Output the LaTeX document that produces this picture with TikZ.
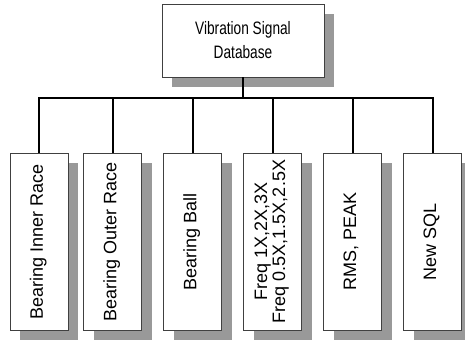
\documentclass[tikz,border=0pt]{standalone}
\usepackage{fontspec}
\setmainfont{Liberation Sans}
\newfontfamily\narrowfont{Liberation Sans}[FakeStretch=0.76]
\usetikzlibrary{positioning,shadows}

\newcommand{\vtext}[1]{\rotatebox{90}{\begin{tabular}{@{}c@{}}#1\end{tabular}}}

\begin{document}
\begin{tikzpicture}[x=1pt, y=1pt, node distance=21.5pt,
    shade/.style={drop shadow={shadow xshift=10pt, shadow yshift=-10pt, fill=black!40, opacity=1}},
    root/.style={rectangle, draw=black!75, line width=0.5pt, fill=white, shade, minimum width=162pt, minimum height=73pt, align=center, font=\narrowfont\fontsize{18}{24}\selectfont},
    leaf/.style={rectangle, draw=black!75, line width=0.5pt, fill=white, shade, minimum width=58pt, minimum height=177pt, inner sep=0pt, font=\fontsize{18}{18}\selectfont},
    link/.style={line width=2pt}]
\useasboundingbox (0,0) rectangle (465,-346);

% Database and its branches
\node[root] (db) at (243,-40.5) {Vibration Signal\\Database};
\node[leaf] (inner) at (39,-241.5) {\vtext{Bearing Inner Race}};
\node[leaf, right=15pt of inner] (outer) {\vtext{Bearing Outer Race}};
\node[leaf, right=of outer] (ball) {\vtext{Bearing Ball}};
\node[leaf, right=of ball] (freq) {\vtext{Freq 1X,2X,3X\\Freq 0.5X,1.5X,2.5X}};
\node[leaf, right=of freq] (rms) {\vtext{RMS, PEAK}};
\node[leaf, right=of rms] (sql) {\vtext{New SQL}};

% Bus
\coordinate (hub) at (db.south |- 0,-98);
\draw[link] (db.south) -- (hub);
\foreach \n in {inner,outer,ball,freq,rms,sql}
  \draw[link] (hub) -| (\n.north);

\end{tikzpicture}
\end{document}
